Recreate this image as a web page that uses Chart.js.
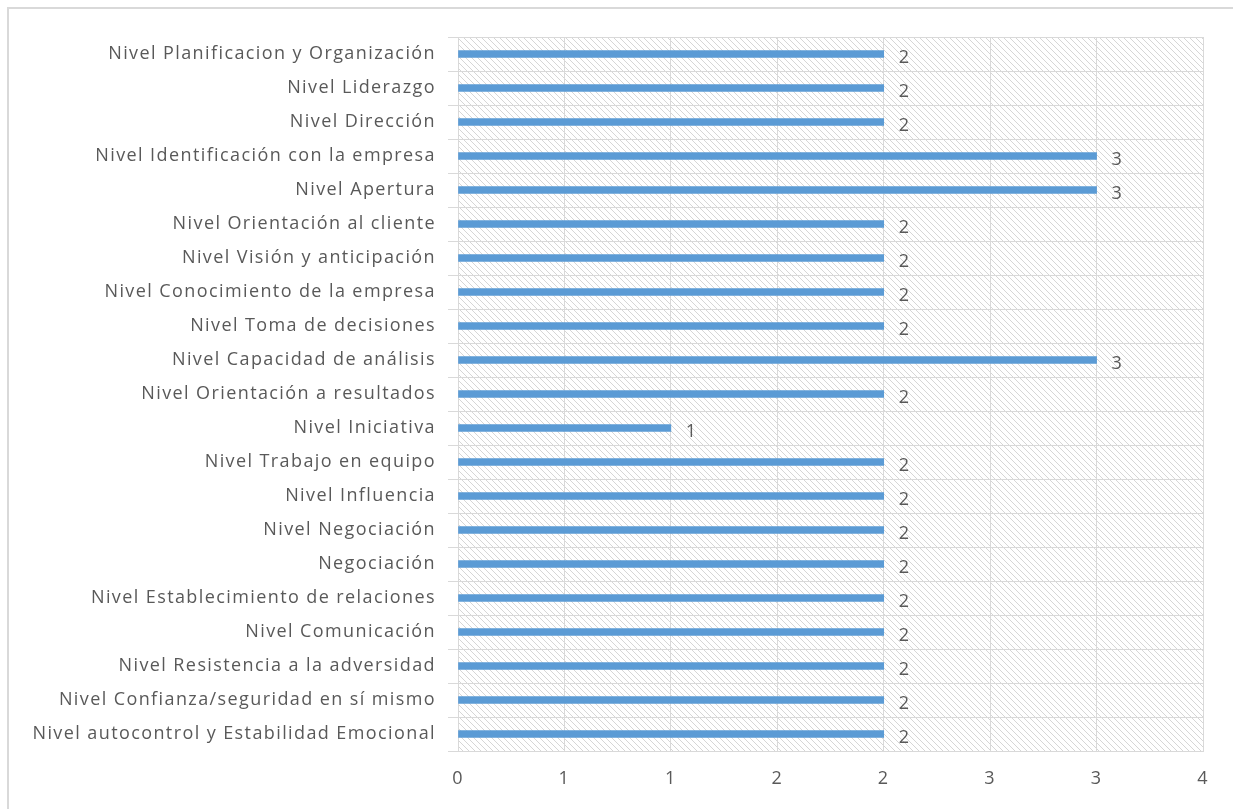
<!DOCTYPE html>
<html>
<head>
<meta charset="utf-8">
<script src="https://cdn.jsdelivr.net/npm/chart.js@4.4.0/dist/chart.umd.min.js"></script>
<style>
  body { margin: 0; background: #fff; }
  #frame { position: absolute; left: 7px; top: 7px; width: 1226px; height: 802px;
           border-top: 2px solid #d9d9d9; border-left: 2px solid #d9d9d9; }
  #wrap { position: absolute; left: 0; top: 0; width: 1233px; height: 809px; }
</style>
</head>
<body>
<div id="frame"></div>
<div id="wrap"><canvas id="chart" width="1233" height="809"></canvas></div>
<script>
const categories = [
  'Nivel Planificacion y Organización',
  'Nivel Liderazgo',
  'Nivel Dirección',
  'Nivel Identificación con la empresa',
  'Nivel Apertura',
  'Nivel Orientación al cliente',
  'Nivel Visión y anticipación',
  'Nivel Conocimiento de la empresa',
  'Nivel Toma de decisiones',
  'Nivel Capacidad de análisis',
  'Nivel Orientación a resultados',
  'Nivel Iniciativa',
  'Nivel Trabajo en equipo',
  'Nivel Influencia',
  'Nivel Negociación',
  'Negociación',
  'Nivel Establecimiento de relaciones',
  'Nivel Comunicación',
  'Nivel Resistencia a la adversidad',
  'Nivel Confianza/seguridad en sí mismo',
  'Nivel autocontrol y Estabilidad Emocional'
];
const values = [2, 2, 2, 3, 3, 2, 2, 2, 2, 3, 2, 1, 2, 2, 2, 2, 2, 2, 2, 2, 2];
const xTicks = [0, 0.5, 1, 1.5, 2, 2.5, 3, 3.5];
const xTickLabels = ['0', '1', '1', '2', '2', '3', '3', '4'];

const textColor = '#595959';
const gridColor = '#d9d9d9';
const fontFamily = '"Open Sans", Lato, sans-serif';

function makeHatch() {
  let c = document.createElement('canvas');
  c.width = 6; c.height = 6;
  let g = c.getContext('2d');
  g.strokeStyle = '#d6d6d6';
  g.lineWidth = 1;
  g.beginPath();
  g.moveTo(-1, -1); g.lineTo(7, 7);
  g.moveTo(-4, 2); g.lineTo(4, 10);
  g.moveTo(2, -4); g.lineTo(10, 4);
  g.stroke();
  return c;
}

// wider text spacing, closer to the original Calibri labels
const spacingPlugin = {
  id: 'spacing',
  beforeInit(chart) { chart.ctx.letterSpacing = '1.4px'; },
  beforeDraw(chart) { chart.ctx.letterSpacing = '1.4px'; }
};

const hatchPlugin = {
  id: 'hatch',
  beforeDraw(chart) {
    let ctx = chart.ctx, a = chart.chartArea;
    ctx.save();
    ctx.fillStyle = ctx.createPattern(makeHatch(), 'repeat');
    ctx.fillRect(a.left, a.top, a.right - a.left, a.bottom - a.top);
    ctx.restore();
  }
};

const labelPlugin = {
  id: 'valueLabels',
  afterDatasetsDraw(chart) {
    let ctx = chart.ctx;
    let meta = chart.getDatasetMeta(0);
    ctx.save();
    ctx.font = '18px ' + fontFamily;
    ctx.fillStyle = textColor;
    ctx.textAlign = 'left';
    ctx.textBaseline = 'middle';
    meta.data.forEach((bar, i) => {
      ctx.fillText(String(values[i]), bar.x + 15, bar.y + 4);
    });
    ctx.restore();
  }
};

new Chart(document.getElementById('chart'), {
  type: 'bar',
  data: {
    labels: categories,
    datasets: [{
      data: values,
      backgroundColor: '#5b9bd5',
      barThickness: 7
    }]
  },
  options: {
    indexAxis: 'y',
    responsive: false,
    animation: false,
    layout: { padding: { top: 37, right: 30, left: 0, bottom: 0 } },
    plugins: { legend: { display: false }, tooltip: { enabled: false } },
    scales: {
      x: {
        min: 0, max: 3.5,
        afterFit(scale) { scale.height = 58; },
        afterBuildTicks(scale) { scale.ticks = xTicks.map(v => ({ value: v })); },
        grid: { color: gridColor, lineWidth: 1, tickLength: 0 },
        border: { color: gridColor },
        ticks: {
          color: textColor, padding: 17,
          font: { family: fontFamily, size: 18 },
          callback: (v, i) => xTickLabels[i]
        }
      },
      y: {
        afterFit(scale) { scale.width = 458; },
        grid: { color: gridColor, lineWidth: 1, tickLength: 10, offset: true },
        border: { color: gridColor },
        ticks: {
          color: textColor, padding: 12, autoSkip: false,
          font: { family: fontFamily, size: 18 }
        }
      }
    }
  },
  plugins: [spacingPlugin, hatchPlugin, labelPlugin]
});
</script>
</body>
</html>
